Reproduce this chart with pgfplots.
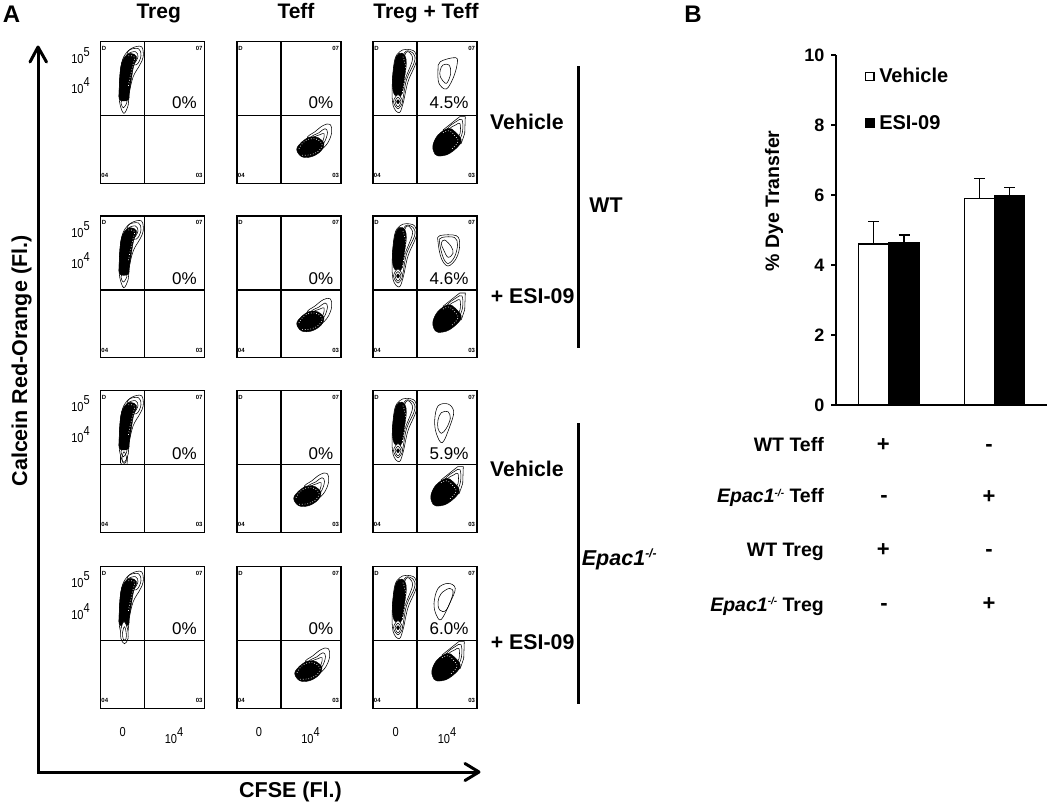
\documentclass[border=0pt]{standalone}
\usepackage{fontspec}
\setmainfont{Liberation Sans}
\usepackage{pgfplots}
\pgfplotsset{compat=1.18}
\newcommand{\fs}[1]{\fontsize{#1}{#1}\selectfont}
\tikzset{
 ct/.style={draw=black,line width=.55pt,fill=white,smooth cycle,tension=.6},
 cl/.style={draw=black,line width=.55pt,smooth cycle,tension=.6},
 bl/.style={draw=black,line width=.4pt,fill=black,smooth cycle,tension=.6},
 sp/.style={white,line width=.7pt,dash pattern=on .7pt off 2pt,smooth,tension=.6}}
\pgfplotsset{flow/.style={scale only axis,width=104pt,height=141.5pt,xmin=0,xmax=104,ymin=0,ymax=141.5,
 y dir=reverse,anchor=north west,xtick=\empty,ytick=\empty,clip=false,axis line style={line width=1.3pt}}}
% --- gated populations, in pixels inside each plot ---
\newcommand{\TregA}[2]{%
\addplot[ct,xshift=#1pt,yshift=-#2pt] coordinates {(23.3,71.7)(19.3,61.7)(18.7,48.3)(20,28.3)(23.3,15)(31,6.7)(41,5)(42.7,15)(39.3,23.3)(32.7,35)(28.7,51.7)(27.7,63.3)};
\addplot[cl,xshift=#1pt,yshift=-#2pt] coordinates {(28,9)(38,7)(40.5,14)(36,23)(27,20)};
\addplot[cl,xshift=#1pt,yshift=-#2pt] coordinates {(28,12)(35,10)(37.5,15)(33,22)(27,18)};
\addplot[cl,xshift=#1pt,yshift=-#2pt] coordinates {(23,66)(20.5,61)(23.5,56)(26.5,60)};
\addplot[bl,xshift=#1pt,yshift=-#2pt] coordinates {(19.3,58.3)(18.7,48.3)(20.3,25)(24.3,15)(30,11.7)(36,15)(33,25)(31,36.7)(28.7,51.7)(27.7,58.3)};
\addplot[sp,xshift=#1pt,yshift=-#2pt] coordinates {(28,14)(34,15.5)(32,25)(30,34)(27.5,46)};
}
\newcommand{\TregB}[2]{%
\addplot[ct,xshift=#1pt,yshift=-#2pt] coordinates {(33.3,7.7)(41.7,10)(43.3,20)(35,40)(30,62)(26,71)(20,63.3)(19.3,41.7)(21.7,18.3)(26.7,10)};
\addplot[cl,xshift=#1pt,yshift=-#2pt] coordinates {(33,9.5)(40.5,12)(41.5,20)(33.5,38)(29,60)(26,40)(28,20)};
\addplot[cl,xshift=#1pt,yshift=-#2pt] coordinates {(33,11)(38.5,13)(39,20)(32,38)(29,52)(27,30)};
\addplot[bl,xshift=#1pt,yshift=-#2pt] coordinates {(21.7,20)(26,11.7)(31.7,13.3)(33.3,21.7)(31.7,35)(28.3,53.3)(21.7,53.3)(19.3,41.7)};
\addplot[sp,xshift=#1pt,yshift=-#2pt] coordinates {(30,15)(32,22)(33,30)(31,42)(29,52)};
\addplot[ct,xshift=#1pt,yshift=-#2pt] coordinates {(20.5,60)(25,53)(29.5,60)(25,67)};
\addplot[cl,xshift=#1pt,yshift=-#2pt] coordinates {(22,60)(25,55.5)(28,60)(25,65)};
\addplot[bl,xshift=#1pt,yshift=-#2pt] coordinates {(23.5,60)(25,58)(26.5,60)(25,62)};
}
\newcommand{\Teff}[2]{%
\addplot[ct,xshift=#1pt,yshift=-#2pt] coordinates {(68,96)(76,89)(84.3,82.7)(91,81.7)(92.7,90)(87.7,101.7)(78,108)};
\addplot[cl,xshift=#1pt,yshift=-#2pt] coordinates {(72,95)(80,90)(86,86)(88.5,90)(85,100)(78,104)};
\addplot[cl,xshift=#1pt,yshift=-#2pt] coordinates {(75,95)(81,92)(85,91)(84,98)(78,102)};
\addplot[bl,xshift=#1pt,yshift=-#2pt] coordinates {(57.7,106.7)(62.7,99.3)(71,94.3)(79.3,95)(85,101)(82,108.3)(72.7,114)(62.7,114)};
\addplot[sp,xshift=#1pt,yshift=-#2pt] coordinates {(60,106)(64,100)(71,96)(79,97)(83,102)(80,108)(72,112)(63,112.5)};
}
\newcommand{\Dbl}[2]{%
\addplot[draw=black,line width=.55pt,fill=white,xshift=#1pt,yshift=-#2pt] coordinates {(70,88.3)(86.7,75)(92.3,75)(91.7,91.7)(88.3,101.7)(78,105)(70,88.3)};
\addplot[cl,xshift=#1pt,yshift=-#2pt] coordinates {(74,88)(83,80)(89,78)(89.5,90)(85,100)(78,100)};
\addplot[cl,xshift=#1pt,yshift=-#2pt] coordinates {(76,88)(83,83)(87,82)(87,92)(83,98)(78,97)};
\addplot[bl,xshift=#1pt,yshift=-#2pt] coordinates {(60,103)(65,93.3)(75,86.7)(82,90)(88.3,100)(76.7,111.7)(65,114.3)(60.7,110)};
\addplot[sp,xshift=#1pt,yshift=-#2pt] coordinates {(70,91)(76,89)(81,93)(85,100)(78,108)};
}
\newcommand{\Corners}{%
\node[font=\bfseries\fs{6}] at (axis cs:3.6,6.7) {D};
\node[font=\bfseries\fs{6}] at (axis cs:98.7,6.7) {07};
\node[font=\bfseries\fs{6}] at (axis cs:4.3,134) {04};
\node[font=\bfseries\fs{6}] at (axis cs:98.7,134) {03};
}
\newcommand{\Pct}[3]{\node[font=\fs{17}] at (axis cs:#1,#2) {#3};}
\newcommand{\Cross}{%
\addplot[black,line width=1.2pt] coordinates {(44,0)(44,142.5)};
\addplot[black,line width=1.2pt] coordinates {(0,74)(104,74)};
}
\newcommand{\Yt}[3]{\node[font=\fs{13},xscale=.85] at (axis cs:#1,#2) {10\raisebox{7pt}{#3}};}
\newcommand{\Sg}[3]{\node[font=\bfseries\fs{22},anchor=base,inner sep=0pt] at (axis cs:#1,#2) {#3};}
\newcommand{\Lb}[2]{\node[font=\bfseries\fs{19.5},anchor=base east,inner sep=0pt] at (axis cs:824,#1) {#2};}
\newcommand{\Ep}{\textit{Epac1\raisebox{6.5pt}{\fs{10}-/-}}}
\begin{document}
\begin{tikzpicture}
\useasboundingbox (0,0) rectangle (1050pt,806pt);
% ---------- row 1
\begin{axis}[flow,at={(100.5pt,764.3pt)}]
\TregA{0}{0}\Cross\Corners\Pct{84}{61}{0\%}
\end{axis}
\begin{axis}[flow,at={(237pt,764.3pt)}]
\Teff{2}{1}\Cross\Corners\Pct{84}{61}{0\%}
\end{axis}
\begin{axis}[flow,at={(373pt,764.3pt)}]
\TregB{0}{0}\Dbl{0}{0}
\addplot[cl] coordinates {(65,28.3)(67.3,20)(82.7,16)(84,23.3)(80,36.7)(73.3,47.3)(66,41.7)};
\addplot[cl] coordinates {(70,23.3)(76,23.3)(77.7,31.7)(73.3,41.7)(67.3,35)(67.3,28.3)};
\Cross\Corners\Pct{76}{61}{4.5\%}
\end{axis}
% ---------- row 2
\begin{axis}[flow,at={(100.5pt,590pt)}]
\TregA{0}{0}\Cross\Corners\Pct{84}{63}{0\%}
\end{axis}
\begin{axis}[flow,at={(237pt,590pt)}]
\Teff{2}{1}\Cross\Corners\Pct{84}{63}{0\%}
\end{axis}
\begin{axis}[flow,at={(373pt,590pt)}]
\TregB{0}{0}\Dbl{0}{2}
\addplot[cl] coordinates {(65,25.7)(66.7,19.7)(83.3,19.7)(86.7,29)(83.3,42.3)(75,50)(68.3,42.3)};
\addplot[cl] coordinates {(66.5,26)(69,21.5)(81.5,21.5)(84.5,29)(81.5,41)(75,47.5)(70,41)};
\addplot[cl] coordinates {(68.3,27.3)(71.7,24)(78.3,30.7)(80,37.3)(75,41.3)(70.7,34)};
\Cross\Corners\Pct{76}{63}{4.6\%}
\end{axis}
% ---------- row 3
\begin{axis}[flow,at={(100.5pt,415.3pt)}]
\addplot[draw=black,line width=.55pt,fill=white] coordinates {(20,60)(20,72)(21.5,74)(26.5,74)(27.5,60)(20,60)};
\TregA{0}{0}
\addplot[cl] coordinates {(21.5,67)(23.5,61)(26,67)(25,72)(22.5,72)};
\Cross\Corners\Pct{84}{62.5}{0\%}
\end{axis}
\begin{axis}[flow,at={(237pt,415.3pt)}]
\Teff{-1}{1}\Cross\Corners\Pct{84}{62.5}{0\%}
\end{axis}
\begin{axis}[flow,at={(373pt,415.3pt)}]
\TregB{0}{0}\Dbl{-2}{1}
\addplot[cl] coordinates {(61.7,29.3)(65,15.3)(75,13.3)(80.7,21)(76.7,36)(69.3,52)(63.3,42.7)};
\addplot[cl] coordinates {(65,29.3)(68.3,22)(75,21)(77.3,27.7)(73.3,37.7)(68.3,42.7)(65,37.7)};
\Cross\Corners\Pct{76}{62.5}{5.9\%}
\end{axis}
% ---------- row 4
\begin{axis}[flow,at={(100.5pt,239.3pt)}]
\TregA{0}{0}
\addplot[ct] coordinates {(20.5,62)(23.5,55)(27,62)(27.5,72)(24,77)(20.5,72)};
\addplot[cl] coordinates {(22,66)(24,60)(25.7,66)(25.5,72)(23,73)};
\Cross\Corners\Pct{84}{61.7}{0\%}
\end{axis}
\begin{axis}[flow,at={(237pt,239.3pt)}]
\Teff{0}{0}\Cross\Corners\Pct{84}{61.7}{0\%}
\end{axis}
\begin{axis}[flow,at={(373pt,239.3pt)}]
\TregB{0}{1}\Dbl{-1}{0}
\addplot[cl] coordinates {(61,36.7)(65,21.7)(75,16.7)(82.3,21.7)(76.7,36.7)(68.3,52.7)(63.3,48.3)};
\addplot[cl] coordinates {(65,35)(68.3,26.7)(76.7,21.7)(80,26.7)(73.3,43.3)(66.7,43.3)};
\Cross\Corners\Pct{76}{61.7}{6.0\%}
\end{axis}
% ---------- panel B
\begin{axis}[scale only axis,width=211pt,height=350pt,at={(836pt,401pt)},anchor=south west,
 xmin=836,xmax=1047,ymin=0,ymax=10,axis x line=bottom,axis y line=left,axis line style={-,line width=1.7pt},
 xtick=\empty,ytick={0,2,4,6,8,10},tick style={black,line width=1.7pt},major tick length=5pt,tick align=outside,
 yticklabel style={font=\bfseries\fs{18},/pgf/number format/assume math mode=true,xshift=-3pt},
 ylabel={\% Dye Transfer},
 ylabel style={at={(axis description cs:-0.294,0.583)},anchor=center,font=\bfseries\fs{19.5}},
 ybar,bar width=30.5pt,bar shift=0pt,
 legend style={draw=none,fill=none,at={(axis cs:864.5,9.68)},anchor=north west,font=\bfseries\fs{20},
   row sep=27pt,inner sep=0pt,legend cell align=left},
 legend image code/.code={\draw[#1,draw=black,line width=1.3pt] (0pt,-4pt) rectangle (8.5pt,4pt);\path (11pt,0pt);}]
\addplot[draw=black,fill=white,line width=1.8pt,error bars/.cd,y dir=plus,y explicit,
 error bar style={black,line width=1.3pt},error mark options={rotate=90,black,line width=1.3pt,mark size=5.5pt}]
 coordinates {(873.7,4.59) +- (0,0.65) (979.7,5.9) +- (0,0.58)};
\addlegendentry{Vehicle}
\addplot[draw=black,fill=black,line width=1pt,error bars/.cd,y dir=plus,y explicit,
 error bar style={black,line width=1.3pt},error mark options={rotate=90,black,line width=1.3pt,mark size=5.5pt}]
 coordinates {(904,4.64) +- (0,0.22) (1009.5,5.98) +- (0,0.23)};
\addlegendentry{ESI-09}
\end{axis}
% ---------- everything set in image pixels
\begin{axis}[scale only axis,width=1050pt,height=806pt,at={(0pt,0pt)},anchor=south west,xmin=0,xmax=1050,ymin=0,ymax=806,
 y dir=reverse,hide axis,clip=false]
\addplot[black,line width=3pt,line cap=round] coordinates {(38,48)(38,772)(478,772)};
\addplot[black,line width=3pt,line cap=round,line join=round] coordinates {(30,62)(38,47)(46.5,62)};
\addplot[black,line width=3pt,line cap=round,line join=round] coordinates {(465,763.5)(479,772)(465,780.5)};
\addplot[black,line width=3.3pt] coordinates {(578.5,66)(578.5,348)};
\addplot[black,line width=3.3pt] coordinates {(578.5,423)(578.5,704)};
\node[font=\bfseries\fs{24},anchor=base] at (11.5,22) {A};
\node[font=\bfseries\fs{24},anchor=base] at (693,22) {B};
\node[font=\bfseries\fs{21},anchor=base] at (158.7,18) {Treg};
\node[font=\bfseries\fs{21},anchor=base] at (296,18) {Teff};
\node[font=\bfseries\fs{21},anchor=base] at (426,18) {Treg + Teff};
\node[font=\bfseries\fs{21.3},anchor=base west,inner sep=0pt] at (490,129) {Vehicle};
\node[font=\bfseries\fs{21.3},anchor=base west,inner sep=0pt] at (490.7,303) {+ ESI-09};
\node[font=\bfseries\fs{21.3},anchor=base west,inner sep=0pt] at (490,476) {Vehicle};
\node[font=\bfseries\fs{21.3},anchor=base west,inner sep=0pt] at (490.7,649.3) {+ ESI-09};
\node[font=\bfseries\fs{21.3},anchor=base] at (606,212) {WT};
\node[font=\bfseries\fs{21.5},anchor=base west,inner sep=0pt] at (581.7,565) {\textit{Epac1\raisebox{8pt}{\fs{12}-/-}}};
\node[font=\bfseries\fs{21.5},rotate=90] at (21.5,361) {Calcein Red-Orange (Fl.)};
\node[font=\bfseries\fs{21.5}] at (290.5,792) {CFSE (Fl.)};
\Yt{80.5}{56}{5}\Yt{80.5}{86}{4}
\Yt{80.5}{230}{5}\Yt{80.5}{260.5}{4}
\Yt{80.5}{404}{5}\Yt{80.5}{435}{4}
\Yt{80.5}{580}{5}\Yt{80.5}{612}{4}
\node[font=\fs{13},xscale=.85] at (122.7,731.7) {0};
\node[font=\fs{13},xscale=.85] at (259,731.7) {0};
\node[font=\fs{13},xscale=.85] at (395.7,731.7) {0};
\Yt{174}{736}{4}\Yt{310.5}{736}{4}\Yt{447}{736}{4}
\Lb{451.7}{WT Teff}
\Lb{502.7}{\Ep\ Teff}
\Lb{556}{WT Treg}
\Lb{611}{\Ep\ Treg}
\Sg{883.3}{451}{+}\Sg{989}{451}{-}
\Sg{884}{502.5}{-}\Sg{989}{503}{+}
\Sg{883.3}{556}{+}\Sg{989}{556.5}{-}
\Sg{884}{610.5}{-}\Sg{989}{610}{+}
\end{axis}
\end{tikzpicture}
\end{document}
